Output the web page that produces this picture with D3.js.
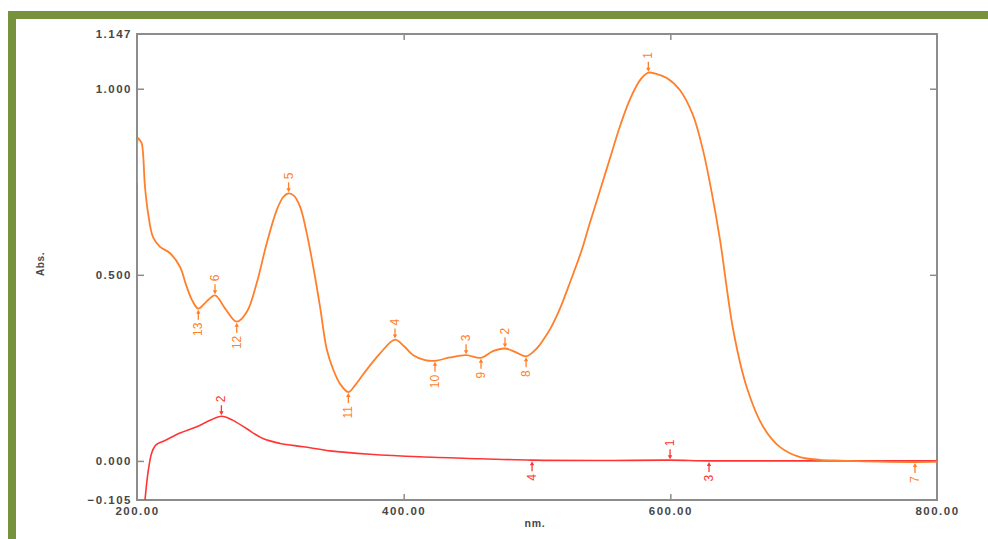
<!DOCTYPE html>
<html><head><meta charset="utf-8">
<script src="https://cdn.jsdelivr.net/npm/d3@7"></script>
<style>
html,body{margin:0;padding:0;background:#fff;}
svg{display:block;}
</style></head>
<body>
<svg id="chart" width="988" height="539"></svg>
<script>
// ---- data ----
const xTicks = [200, 400, 600, 800];
const yTicks = [0, 0.5, 1.0];
const yEnds = [-0.105, 1.147];

const orangeNm  = [200,201.0,202.0,203.5,206.0,208.3,212.0,217.3,224.8,232.3,236.8,241.3,246.0,251.0,258.5,266.0,274.8,282.3,289.8,297.3,304.8,309.7,313.7,317.8,322.3,327.3,332.2,337.3,342.3,347.0,352.3,358.5,363.5,369.7,382.3,393.5,400.3,407.2,416.0,423.5,434.8,446.8,458.0,467.0,476.0,483.5,491.8,499.8,504.5,509.8,517.3,524.8,533.5,539.8,547.3,554.8,562.3,569.8,577.3,583.5,589.3,597.3,607.3,617.0,624.5,631.0,637.3,647.2,657.3,669.7,682.3,697.3,712.3,727.3,757.3,783.5,800];
const orangeAbs = [0.746,0.867,0.862,0.854,0.736,0.666,0.601,0.575,0.558,0.521,0.473,0.432,0.409,0.424,0.445,0.410,0.374,0.400,0.478,0.585,0.674,0.709,0.719,0.712,0.683,0.612,0.521,0.414,0.300,0.247,0.207,0.185,0.203,0.233,0.289,0.326,0.308,0.284,0.271,0.269,0.278,0.284,0.277,0.295,0.302,0.293,0.281,0.302,0.324,0.354,0.410,0.480,0.566,0.641,0.727,0.814,0.900,0.972,1.023,1.043,1.040,1.029,0.996,0.929,0.835,0.722,0.593,0.351,0.198,0.091,0.037,0.010,0.003,0.001,-0.002,-0.003,-0.002];

const redNm  = [206.0,208.5,211.0,213.5,215.8,219.7,232.3,244.8,254.8,263.3,272.0,282.0,294.5,307.3,324.8,344.8,374.8,412.3,457.3,496.3,547.3,599.8,629.0,697.3,800];
const redAbs = [-0.105,-0.025,0.021,0.040,0.047,0.053,0.075,0.092,0.109,0.120,0.109,0.087,0.060,0.047,0.038,0.027,0.018,0.011,0.006,0.002,0.001,0.002,0.000,0.000,0.000];

// peak / valley picks
const orangePickLabel = ["1","2","3","4","5","6","7","8","9","10","11","12","13"];
const orangePickNm    = [583.5,476.0,446.8,393.5,313.7,258.5,783.5,491.8,458.0,423.5,358.5,274.8,246.0];
const orangePickAbs   = [1.043,0.302,0.284,0.326,0.719,0.445,-0.003,0.281,0.277,0.269,0.185,0.374,0.409];
const orangePickType  = ["peak","peak","peak","peak","peak","peak","valley","valley","valley","valley","valley","valley","valley"];

const redPickLabel = ["1","2","3","4"];
const redPickNm    = [599.8,263.3,629.0,496.3];
const redPickAbs   = [0.002,0.120,0.000,0.002];
const redPickType  = ["peak","peak","valley","valley"];

// ---- layout ----
const svg = d3.select("#chart");
const W = 988, H = 539;
const L = 137, R = 937, T = 34, B = 500;
const ORANGE = "#ff7f2a", RED = "#ff3535";
const GREEN = "#76923c";
const AX = "#8c8c8c", TXT = "#474747";

// green frame
svg.append("rect").attr("x", 8).attr("y", 11).attr("width", W - 8).attr("height", 8).attr("fill", GREEN);
svg.append("rect").attr("x", 8).attr("y", 11).attr("width", 8).attr("height", H - 11).attr("fill", GREEN);

const x = d3.scaleLinear().domain([200, 800]).range([L, R]);
const y = d3.scaleLinear().domain([-0.105, 1.147]).range([B, T]);

const fontCss = "font-family:Arial,'Liberation Sans',sans-serif;font-weight:bold;font-size:11.5px;letter-spacing:1.5px;";

// axes
const gL = svg.append("g").attr("transform", `translate(${L},0)`)
  .call(d3.axisLeft(y).tickValues(yEnds.concat(yTicks)).tickSizeInner(-7).tickSizeOuter(0).tickPadding(5).tickFormat(d3.format(".3f")));
const gR = svg.append("g").attr("transform", `translate(${R},0)`)
  .call(d3.axisRight(y).tickValues(yTicks).tickSizeInner(-7).tickSizeOuter(0).tickFormat(""));
const gB = svg.append("g").attr("transform", `translate(0,${B})`)
  .call(d3.axisBottom(x).tickValues(xTicks).tickSizeInner(-6).tickSizeOuter(0).tickPadding(7).tickFormat(d3.format(".2f")));
const gT = svg.append("g").attr("transform", `translate(0,${T})`)
  .call(d3.axisTop(x).tickValues(xTicks).tickSizeInner(-6).tickSizeOuter(0).tickFormat(""));

[gL, gR, gB, gT].forEach(g => {
  g.select(".domain").remove();
  g.selectAll(".tick line").attr("stroke", AX).attr("stroke-width", 1.5);
  g.selectAll("text").attr("style", fontCss).attr("fill", TXT);
});
gL.selectAll(".tick").filter(d => d === -0.105 || d === 1.147).select("line").remove();
gB.selectAll(".tick").filter(d => d === 200 || d === 800).select("line").remove();
gT.selectAll(".tick").filter(d => d === 200 || d === 800).select("line").remove();
gL.selectAll(".tick text").attr("x", -5);

// frame
svg.append("rect").attr("x", L).attr("y", T).attr("width", R - L).attr("height", B - T)
  .attr("fill", "none").attr("stroke", AX).attr("stroke-width", 2);

// axis titles
svg.append("text").attr("x", 535).attr("y", 527).attr("text-anchor", "middle")
  .attr("style", fontCss + "font-size:10.5px;letter-spacing:0.8px;").attr("fill", TXT).text("nm.");
svg.append("text").attr("transform", "translate(44,264) rotate(-90)").attr("text-anchor", "middle")
  .attr("style", fontCss + "font-size:10px;letter-spacing:0.6px;").attr("fill", TXT).text("Abs.");

// clip
svg.append("clipPath").attr("id", "plotclip").append("rect")
  .attr("x", L).attr("y", T).attr("width", R - L).attr("height", B - T);

const line = d3.line().x(d => x(d[0])).y(d => y(d[1])).curve(d3.curveCatmullRom.alpha(0.5));
const plot = svg.append("g").attr("clip-path", "url(#plotclip)");

plot.append("path").datum(redNm.map((v, i) => [v, redAbs[i]]))
  .attr("d", line).attr("fill", "none").attr("stroke", RED).attr("stroke-width", 1.6);
plot.append("path").datum(orangeNm.map((v, i) => [v, orangeAbs[i]]))
  .attr("d", line).attr("fill", "none").attr("stroke", ORANGE).attr("stroke-width", 1.8);

function picks(labels, nms, abss, types, color) {
  const g = svg.append("g");
  labels.forEach((lab, i) => {
    const px = x(nms[i]), py = y(abss[i]);
    const dir = types[i] === "peak" ? -1 : 1; // -1 = upwards
    const tip = py + dir * 1;
    const end = py + dir * 11;
    g.append("line").attr("x1", px).attr("x2", px).attr("y1", tip + dir * 2).attr("y2", end)
      .attr("stroke", color).attr("stroke-width", 1.3);
    g.append("path").attr("d", `M${px},${tip} L${px - 2.2},${tip + dir * 4} L${px + 2.2},${tip + dir * 4} Z`)
      .attr("fill", color);
    const ty = end + dir * 3;
    g.append("text")
      .attr("transform", `translate(${px},${ty}) rotate(-90)`)
      .attr("text-anchor", types[i] === "peak" ? "start" : "end")
      .attr("dominant-baseline", "central")
      .attr("style", "font-family:Arial,'Liberation Sans',sans-serif;font-size:12px;")
      .attr("fill", color).text(lab);
  });
}
picks(redPickLabel, redPickNm, redPickAbs, redPickType, RED);
picks(orangePickLabel, orangePickNm, orangePickAbs, orangePickType, ORANGE);
</script>
</body></html>
